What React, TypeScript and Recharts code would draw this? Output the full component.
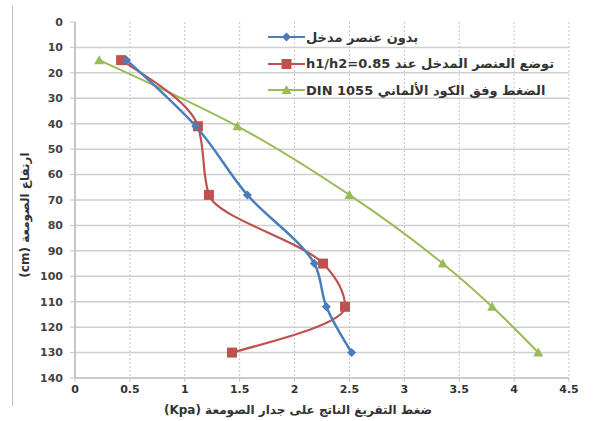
import React from 'react';
import {
  LineChart,
  Line,
  XAxis,
  YAxis,
  CartesianGrid,
} from 'recharts';

const depths = [15, 41, 68, 95, 112, 130];
// pressure (Kpa) for each series, same order as depths
const noInsert = [0.47, 1.1, 1.57, 2.18, 2.29, 2.52];
const insert085 = [0.42, 1.12, 1.22, 2.26, 2.46, 1.43];
const din1055 = [0.22, 1.48, 2.5, 3.35, 3.8, 4.22];

const xTicks = [0, 0.5, 1, 1.5, 2, 2.5, 3, 3.5, 4, 4.5];
const yTicks = [0, 10, 20, 30, 40, 50, 60, 70, 80, 90, 100, 110, 120, 130, 140];

const seriesNames = [
  'بدون عنصر مدخل',
  'توضع العنصر المدخل عند h1/h2=0.85',
  'الضغط وفق الكود الألماني DIN 1055',
];
const xLabel = 'ضغط التفريغ الناتج على جدار الصومعة (Kpa)';
const yLabel = 'ارتفاع الصومعة (cm)';

const BLUE = '#4a7ebb';
const RED = '#c0504d';
const GREEN = '#9bbb59';
const FONT = '"DejaVu Sans", sans-serif';

const toRows = (vals: number[]) => vals.map((p, i) => ({ d: depths[i], p }));

const diamond = (cx: number, cy: number, r: number) =>
  `M${cx},${cy - r}L${cx + r},${cy}L${cx},${cy + r}L${cx - r},${cy}Z`;
const triangle = (cx: number, cy: number, r: number) =>
  `M${cx},${cy - r}L${cx + r},${cy + r * 0.8}L${cx - r},${cy + r * 0.8}Z`;

const Marker = ({ kind, cx, cy }: { kind: string; cx: number; cy: number }) => {
  if (kind === 'diamond') return <path d={diamond(cx, cy, 4.5)} fill={BLUE} />;
  if (kind === 'square') return <rect x={cx - 5} y={cy - 5} width={10} height={10} fill={RED} />;
  return <path d={triangle(cx, cy, 5)} fill={GREEN} />;
};

const dotFor = (kind: string) => (props: any) => {
  const { cx, cy, index } = props;
  if (cx == null || cy == null) return <g key={`e-${kind}-${index}`} />;
  return <Marker key={`${kind}-${index}`} kind={kind} cx={cx} cy={cy} />;
};

const legendItems = [
  { name: seriesNames[0], color: BLUE, kind: 'diamond' },
  { name: seriesNames[1], color: RED, kind: 'square' },
  { name: seriesNames[2], color: GREEN, kind: 'triangle' },
];

const App: React.FC = () => {
  return (
    <div style={{ position: 'absolute', left: 0, top: 0, width: 596, height: 421, background: '#fff', fontFamily: FONT }}>
      {/* frame edge on the left of the picture */}
      <div style={{ position: 'absolute', left: 12, top: 6, width: 1, height: 400, background: '#bdbdbd' }} />

      <LineChart
        width={596}
        height={421}
        layout="vertical"
        margin={{ top: 22, right: 27, bottom: 18, left: 0 }}
      >
        <CartesianGrid
          vertical={false}
          stroke="#cfcfcf"
          strokeWidth={1.5}
          horizontalValues={yTicks.slice(1)}
        />
        <CartesianGrid
          horizontal={false}
          stroke="#c4c4c4"
          strokeDasharray="2 2"
          verticalValues={xTicks.slice(1)}
        />
        <XAxis
          type="number"
          dataKey="p"
          domain={[0, 4.5]}
          ticks={xTicks}
          height={25}
          tickSize={4}
          tickMargin={3}
          axisLine={{ stroke: '#c4c4c4', strokeWidth: 1.5 }}
          tickLine={{ stroke: '#c4c4c4' }}
          tick={{ fontSize: 11, fontWeight: 'bold', fill: '#333', fontFamily: FONT }}
          allowDataOverflow
        />
        {/* in vertical layout the y range already runs top to bottom, so 0 sits at the top */}
        <YAxis
          type="number"
          dataKey="d"
          domain={[0, 140]}
          ticks={yTicks}
          width={75}
          tickSize={5}
          tickMargin={7}
          axisLine={{ stroke: '#b5b5b5', strokeWidth: 1.5 }}
          tickLine={{ stroke: '#c4c4c4' }}
          tick={{ fontSize: 11, fontWeight: 'bold', fill: '#444', fontFamily: FONT }}
          allowDataOverflow
        />
        <Line
          data={toRows(din1055)}
          dataKey="p"
          name={seriesNames[2]}
          type="monotone"
          stroke={GREEN}
          strokeWidth={2}
          dot={dotFor('triangle')}
          activeDot={false}
          isAnimationActive={false}
        />
        <Line
          data={toRows(insert085)}
          dataKey="p"
          name={seriesNames[1]}
          type="monotone"
          stroke={RED}
          strokeWidth={2.2}
          dot={dotFor('square')}
          activeDot={false}
          isAnimationActive={false}
        />
        <Line
          data={toRows(noInsert)}
          dataKey="p"
          name={seriesNames[0]}
          type="monotone"
          stroke={BLUE}
          strokeWidth={2.5}
          dot={dotFor('diamond')}
          activeDot={false}
          isAnimationActive={false}
        />
      </LineChart>

      {/* legend sits inside the plot, top right */}
      <div style={{ position: 'absolute', left: 268, top: 24 }}>
        {legendItems.map((it) => (
          <div key={it.kind} style={{ display: 'flex', alignItems: 'center', height: 26.5 }}>
            <svg width={37} height={14} style={{ flex: 'none' }}>
              <line x1={0} y1={7} x2={37} y2={7} stroke={it.color} strokeWidth={2.2} />
              <Marker kind={it.kind} cx={18.5} cy={7} />
            </svg>
            <span dir="rtl" style={{ fontSize: 13, fontWeight: 'bold', color: '#333', whiteSpace: 'nowrap', marginLeft: 1 }}>
              {it.name}
            </span>
          </div>
        ))}
      </div>

      <div
        dir="rtl"
        style={{
          position: 'absolute',
          left: 25,
          top: 215,
          transform: 'translate(-50%, -50%) rotate(-90deg)',
          fontSize: 12,
          fontWeight: 'bold',
          color: '#333',
          whiteSpace: 'nowrap',
        }}
      >
        {yLabel}
      </div>
      <div
        dir="rtl"
        style={{
          position: 'absolute',
          left: 298,
          top: 410,
          transform: 'translate(-50%, -50%)',
          fontSize: 12,
          fontWeight: 'bold',
          color: '#333',
          whiteSpace: 'nowrap',
        }}
      >
        {xLabel}
      </div>
    </div>
  );
};

export default App;
